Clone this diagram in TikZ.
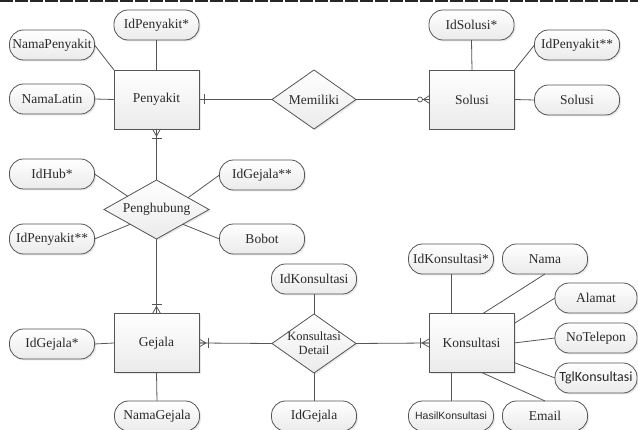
\documentclass[tikz,border=0pt]{standalone}
\usepackage{fontspec}
\setmainfont{Liberation Serif}
\newfontfamily\hkfont{Liberation Sans}
\newfontfamily\tglfont{Carlito}
\usetikzlibrary{shapes.geometric,calc,shadows}
\definecolor{edge}{HTML}{555555}
\definecolor{txt}{HTML}{2A2A2A}
\tikzset{
  base/.style={draw=edge, line width=0.8pt, top color=white, bottom color=gray!16,
    text=txt, inner sep=0pt, outer sep=0pt,
    drop shadow={opacity=0.18, shadow xshift=1.5pt, shadow yshift=-1.5pt},
    font=\fontsize{13.5}{15}\selectfont},
  ent/.style={base, rectangle, minimum width=85pt, minimum height=59pt},
  attr/.style={base, rectangle, rounded corners=14pt, minimum width=85pt, minimum height=30pt},
  rel/.style={base, diamond, minimum width=84pt, minimum height=59pt},
  conn/.style={draw=edge, line width=0.8pt},
  cfoot/.pic={\draw[conn] (0,-4) -- (7,0) -- (0,4) (0,0) -- (7,0);
              \draw[conn] (9,-5) -- (9,5);},
  cfootz/.pic={\draw[conn] (0,-4) -- (6,0) -- (0,4);
               \draw[conn, fill=white] (9.5,0) circle (2.5pt);},
  onebar/.pic={\draw[conn] (5,-5) -- (5,5);}
}
\begin{document}
\begin{tikzpicture}[x=1pt,y=-1pt]
\useasboundingbox (0,0) rectangle (638,430);
\draw[line width=2pt, black!85, dash pattern=on 13pt off 2pt] (0,1) -- (638,1);

% entities
\node[ent] (pen) at (156.5,99.5) {Penyakit};
\node[ent] (sol) at (472,99.5) {Solusi};
\node[ent] (gej) at (156.5,343) {Gejala};
\node[ent] (kon) at (471.5,343) {Konsultasi};

% relationships
\node[rel] (mem) at (314,99.5) {};
\node[text=txt, font=\fontsize{13.5}{15}\selectfont] (memt) at (mem) {Memiliki};
\node[rel, minimum width=105pt] (peng) at (156.5,209.5) {};
\node[text=txt, font=\fontsize{13.5}{15}\selectfont] (pengt) at (peng) {Penghubung};
\node[rel] (kd) at (314,343.5) {};
\node[text=txt, align=center, inner sep=0pt, font=\fontsize{12.5}{14}\selectfont] (kdt) at (kd) {Konsultasi\\Detail};

% attributes
\node[attr] (idp) at (156.5,25) {IdPenyakit*};
\node[attr] (np) at (52,45) {NamaPenyakit};
\node[attr] (nl) at (52,99) {NamaLatin};
\node[attr] (ids) at (471.5,25) {IdSolusi*};
\node[attr] (idp2) at (577,45) {IdPenyakit**};
\node[attr] (sola) at (577,100) {Solusi};
\node[attr] (hub) at (52,174) {IdHub*};
\node[attr] (ig2) at (262,175) {IdGejala**};
\node[attr] (ip3) at (52,239) {IdPenyakit**};
\node[attr] (bob) at (262,239) {Bobot};
\node[attr] (ig) at (52,344) {IdGejala*};
\node[attr] (ng) at (157,416) {NamaGejala};
\node[attr] (ik) at (314,279) {IdKonsultasi};
\node[attr] (igb) at (314,416) {IdGejala};
\node[attr] (ik2) at (451,259) {IdKonsultasi*};
\node[attr] (nama) at (545,259) {Nama};
\node[attr, minimum width=82pt] (alm) at (596,298) {Alamat};
\node[attr, minimum width=82pt] (notel) at (596,338) {NoTelepon};
\node[attr, minimum width=82pt, font=\tglfont\fontsize{14}{16}\selectfont] (tgl) at (596,378) {TglKonsultasi};
\node[attr, font=\hkfont\fontsize{10.5}{12}\selectfont] (hk) at (451,416) {HasilKonsultasi};
\node[attr] (email) at (545,416) {Email};

% attribute links
\draw[conn] (idp.south) -- (pen.north);
\draw[conn] (np.east) -- (pen.north west);
\draw[conn] (nl.east) -- (pen.west);
\draw[conn] (ids.south) -- (sol.north);
\draw[conn] (sol.north east) -- (idp2.west);
\draw[conn] (sol.east) -- (sola.west);
\draw[conn] (hub.east) -- ($(peng.west)!0.45!(peng.north)$);
\draw[conn] (ig2.west) -- ($(peng.east)!0.4!(peng.north)$);
\draw[conn] (ip3.east) -- ($(peng.west)!0.5!(peng.south)$);
\draw[conn] (bob.west) -- ($(peng.east)!0.5!(peng.south)$);
\draw[conn] (ig.east) -- (gej.west);
\draw[conn] (gej.south) -- (ng.north);
\draw[conn] (ik.south) -- (kd.north);
\draw[conn] (kd.south) -- (igb.north);
\draw[conn] (ik2.south) -- (ik2.south |- kon.north);
\draw[conn] ($(kon.north west)!0.635!(kon.north east)$) -- (nama.south);
\draw[conn] ($(kon.north east)!0.17!(kon.south east)$) -- (alm.west);
\draw[conn] (kon.east) -- (notel.west);
\draw[conn] ($(kon.north east)!0.83!(kon.south east)$) -- (tgl.west);
\draw[conn] ($(kon.south west)!0.62!(kon.south east)$) -- (email.north);
\draw[conn] (hk.north) -- (hk.north |- kon.south);

% relationship links
\draw[conn] (pen.east) -- (mem.west);
\draw[conn] (mem.east) -- (sol.west);
\draw[conn] (pen.south) -- (peng.north);
\draw[conn] (peng.south) -- (gej.north);
\draw[conn] (gej.east) -- (kd.west);
\draw[conn] (kd.east) -- (kon.west);

% cardinality marks
\pic at (pen.east) {onebar};
\pic[rotate=180] at (sol.west) {cfootz};
\pic[rotate=-90] at (pen.south) {cfoot};
\pic[rotate=90] at (gej.north) {cfoot};
\pic at (gej.east) {cfoot};
\pic[rotate=180] at (kon.west) {cfoot};
\end{tikzpicture}
\end{document}
